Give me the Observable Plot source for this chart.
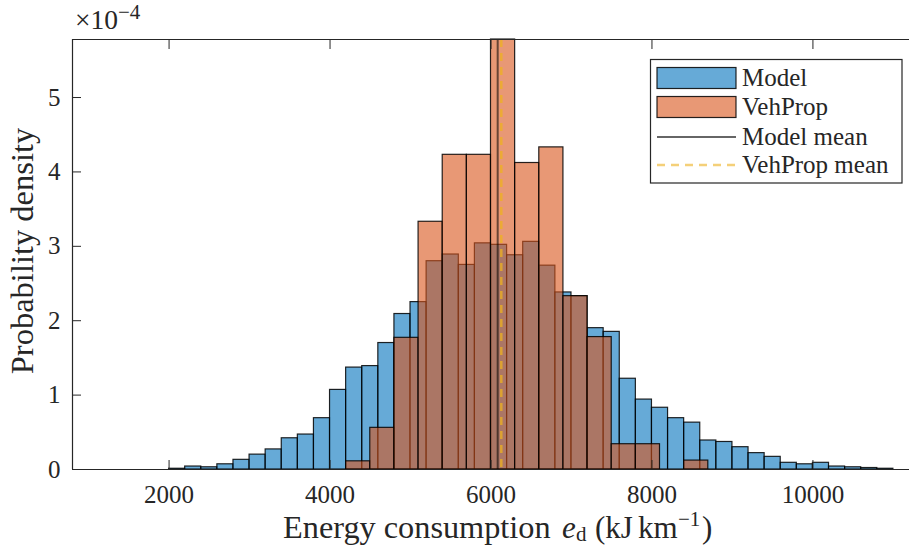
<!DOCTYPE html>
<html><head><meta charset="utf-8">
<script src="https://cdn.jsdelivr.net/npm/d3@7"></script>
<script src="https://cdn.jsdelivr.net/npm/@observablehq/plot@0.6"></script>
<style>
html,body{margin:0;padding:0;background:#fff;overflow:hidden}
#chart{position:relative;width:909px;height:546px}
</style></head><body><div id="chart"></div>
<script>
// ---- data (densities in units of 1e-4 per kJ/km) ----
const modelBinWidth = 200;
const modelBinStart = [2000, 2200, 2400, 2600, 2800, 3000, 3200, 3400, 3600, 3800,
  4000, 4200, 4400, 4600, 4800, 5000, 5200, 5400, 5600, 5800,
  6000, 6200, 6400, 6600, 6800, 7000, 7200, 7400, 7600, 7800,
  8000, 8200, 8400, 8600, 8800, 9000, 9200, 9400, 9600, 9800,
  10000, 10200, 10400, 10600, 10800];
const modelDensity = [0.01, 0.04, 0.03, 0.07, 0.13, 0.20, 0.27, 0.42, 0.47, 0.69,
  1.07, 1.37, 1.39, 1.70, 2.09, 2.25, 2.80, 2.89, 2.75, 3.04,
  3.02, 2.88, 3.06, 2.74, 2.38, 2.33, 1.90, 1.85, 1.22, 0.94,
  0.83, 0.69, 0.63, 0.39, 0.37, 0.30, 0.22, 0.17, 0.09, 0.07,
  0.09, 0.04, 0.03, 0.02, 0.01];
const vehBinWidth = 300;
const vehBinStart = [4200, 4500, 4800, 5100, 5400, 5700, 6000, 6300, 6600, 6900, 7200, 7500, 7800, 8100, 8400];
const vehDensity  = [0.11, 0.56, 1.77, 3.33, 4.23, 4.23, 5.78, 4.12, 4.33, 2.33, 1.78, 0.34, 0.34, 0, 0.12];
const modelMean = 6083;
const vehMean = 6128;
const xTicks = [2000, 4000, 6000, 8000, 10000];
const yTicks = [0, 1, 2, 3, 4, 5];
const xDomain = [800, 11200];
const yDomain = [0, 5.78];
const legendLabels = ["Model", "VehProp", "Model mean", "VehProp mean"];
const colModel = "#0072BD", colVeh = "#D95319", colMean = "#000000", colVehMean = "#EDB120";
const axisColor = "#262626";
const font = "'Liberation Serif', 'DejaVu Serif', serif";

const model = modelBinStart.map((x, i) => ({x1: x, x2: x + modelBinWidth, y: modelDensity[i]}));
const veh = vehBinStart.map((x, i) => ({x1: x, x2: x + vehBinWidth, y: vehDensity[i]})).filter(d => d.y > 0);

const plot = Plot.plot({
  width: 909, height: 546,
  marginLeft: 72, marginRight: 0, marginTop: 39, marginBottom: 77,
  style: {fontFamily: font, fontSize: "25px", color: axisColor, background: "white", overflow: "visible"},
  x: {domain: xDomain, label: null},
  y: {domain: yDomain, label: null},
  marks: [
    Plot.rectY(model, {x1: "x1", x2: "x2", y: "y", inset: 0, fill: colModel, fillOpacity: 0.6, stroke: "#000", strokeOpacity: 0.85, strokeWidth: 1.2}),
    Plot.rectY(veh, {x1: "x1", x2: "x2", y: "y", inset: 0, fill: colVeh, fillOpacity: 0.6, stroke: "#000", strokeOpacity: 0.85, strokeWidth: 1.2}),
    Plot.ruleX([modelMean], {stroke: colMean, strokeOpacity: 0.55, strokeWidth: 2}),
    Plot.ruleX([vehMean], {stroke: colVehMean, strokeOpacity: 0.75, strokeWidth: 2.5, strokeDasharray: "8,6"}),
    Plot.ruleY([yDomain[0]], {stroke: axisColor, strokeWidth: 1.2}),
    Plot.ruleY([yDomain[1]], {stroke: axisColor, strokeWidth: 1.2}),
    Plot.ruleX([xDomain[0]], {stroke: axisColor, strokeWidth: 1.2}),
    Plot.axisX(xTicks, {anchor: "bottom", tickSize: -9, tickFormat: () => "", label: null, stroke: axisColor}),
    Plot.axisX(xTicks, {anchor: "top", tickSize: -9, tickFormat: () => "", label: null, stroke: axisColor}),
    Plot.axisY(yTicks, {anchor: "left", tickSize: -9, tickFormat: () => "", label: null, stroke: axisColor}),
    Plot.axisX(xTicks, {anchor: "bottom", tickSize: 0, tickPadding: 16, label: null, tickFormat: d => String(d), fill: axisColor}),
    Plot.axisY(yTicks, {anchor: "left", tickSize: 0, tickPadding: 12, label: null, tickFormat: d => String(d), fill: axisColor})
  ]
});
document.getElementById("chart").appendChild(plot);
// drop the empty label texts of the tick-only axes
plot.querySelectorAll("text").forEach(t => { if (t.textContent.trim() === "") t.remove(); });

const svg = d3.select(plot);
// x label (pieces placed to mimic LaTeX spacing)
const bl = 537.5;
const xl = svg.append("g").attr("font-family", font).attr("font-size", 31).attr("fill", axisColor).attr("text-anchor", "start");
xl.append("text").attr("x", 283).attr("y", bl).attr("font-size", 32.3).text("Energy consumption");
xl.append("text").attr("x", 562).attr("y", bl).attr("font-style", "italic").text("e");
xl.append("text").attr("x", 576).attr("y", bl + 3).attr("font-size", 21).text("d");
xl.append("text").attr("x", 595).attr("y", bl).text("(kJ");
xl.append("text").attr("x", 638).attr("y", bl).text("km");
xl.append("text").attr("x", 678).attr("y", bl - 12).attr("font-size", 21).text("\u22121");
xl.append("text").attr("x", 702).attr("y", bl).text(")");
// y label
svg.append("text").attr("transform", "translate(33,251) rotate(-90)").attr("text-anchor", "middle")
  .attr("font-family", font).attr("font-size", 32.5).attr("fill", axisColor).text("Probability density");
// exponent
const ex = svg.append("text").attr("x", 75).attr("y", 29).attr("text-anchor", "start")
  .attr("font-family", font).attr("font-size", 27.5).attr("fill", axisColor);
ex.append("tspan").text("\u00d710");
ex.append("tspan").attr("font-size", 21).attr("dy", -10).text("\u22124");

// legend
const lg = svg.append("g").attr("font-family", font).attr("font-size", 25).attr("fill", axisColor).attr("text-anchor", "start");
lg.append("rect").attr("x", 650.5).attr("y", 59.5).attr("width", 251.5).attr("height", 123.5)
  .attr("fill", "white").attr("stroke", axisColor).attr("stroke-width", 1.2);
const rowsY = [78, 107, 137, 165];
const patchCols = [colModel, colVeh];
patchCols.forEach((c, i) => {
  lg.append("rect").attr("x", 657).attr("y", rowsY[i] - 10.5).attr("width", 79).attr("height", 21)
    .attr("fill", c).attr("fill-opacity", 0.6).attr("stroke", "#000").attr("stroke-opacity", 0.85).attr("stroke-width", 1.2);
});
lg.append("line").attr("x1", 657).attr("x2", 736).attr("y1", rowsY[2]).attr("y2", rowsY[2])
  .attr("stroke", colMean).attr("stroke-opacity", 0.6).attr("stroke-width", 2);
lg.append("line").attr("x1", 657).attr("x2", 736).attr("y1", rowsY[3]).attr("y2", rowsY[3])
  .attr("stroke", colVehMean).attr("stroke-opacity", 0.6).attr("stroke-width", 2.5).attr("stroke-dasharray", "8,6");
legendLabels.forEach((t, i) => {
  lg.append("text").attr("x", 742).attr("y", rowsY[i] + 7.5).text(t);
});
</script></body></html>
